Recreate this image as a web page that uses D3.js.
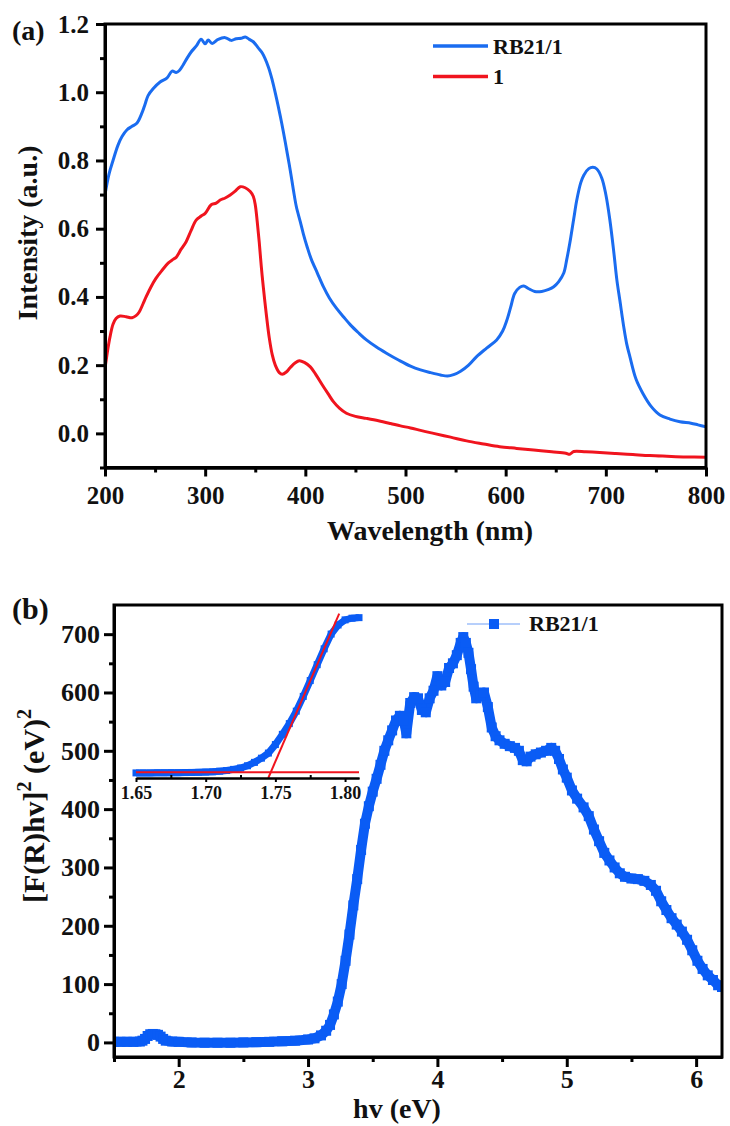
<!DOCTYPE html>
<html>
<head>
<meta charset="utf-8">
<script src="https://cdn.jsdelivr.net/npm/d3@7"></script>
<style>
  body { margin: 0; background: #fff; }
  svg { display: block; font-family: "Liberation Serif", "Times New Roman", serif; font-weight: bold; }
</style>
</head>
<body>
<div id="chart"></div>
<script>
// (a) absorption spectra, wavelength (nm) vs intensity
const rb21Spectrum = [
  [200, 0.70], [204, 0.76], [208, 0.80], [213, 0.845], [217, 0.87], [222, 0.89], [227, 0.90],
  [232, 0.91], [237, 0.94], [240, 0.965], [243, 0.99], [248, 1.01], [255, 1.03], [262, 1.042],
  [267, 1.062], [271, 1.058], [274, 1.063], [278, 1.08], [282, 1.10], [286, 1.118], [291, 1.135],
  [296, 1.155], [300, 1.142], [303, 1.153], [307, 1.143], [313, 1.155], [320, 1.16], [326, 1.152],
  [331, 1.157], [336, 1.158], [340, 1.162], [344, 1.155], [348, 1.148], [353, 1.13], [357, 1.115],
  [363, 1.075], [367, 1.035], [371, 0.985], [375, 0.93], [378, 0.885], [382, 0.82], [385, 0.77],
  [388, 0.715], [391, 0.665], [395, 0.62], [398, 0.585], [402, 0.545], [406, 0.51], [412, 0.47],
  [418, 0.43], [424, 0.397], [431, 0.367], [438, 0.342], [445, 0.318], [453, 0.295], [461, 0.274],
  [471, 0.253], [481, 0.235], [493, 0.215], [505, 0.197], [515, 0.186], [525, 0.178], [535, 0.171],
  [542, 0.168], [548, 0.172], [555, 0.182], [563, 0.2], [571, 0.225], [581, 0.25], [591, 0.274],
  [597, 0.3], [601, 0.33], [605, 0.37], [609, 0.41], [614, 0.428], [618, 0.432], [623, 0.424],
  [629, 0.416], [636, 0.416], [643, 0.422], [648, 0.43], [653, 0.445], [658, 0.47], [661, 0.51],
  [664, 0.557], [668, 0.63], [671, 0.684], [675, 0.735], [678, 0.757], [683, 0.776], [687, 0.78],
  [691, 0.775], [696, 0.748], [700, 0.70], [704, 0.626], [708, 0.53], [711, 0.45], [714, 0.39],
  [718, 0.31], [721, 0.26], [724, 0.225], [730, 0.16], [737, 0.117], [745, 0.08], [754, 0.054],
  [764, 0.042], [774, 0.034], [785, 0.03], [792, 0.025], [800, 0.019]
];
const cmpd1Spectrum = [
  [200, 0.19], [203, 0.25], [205, 0.283], [208, 0.32], [211, 0.337], [215, 0.344], [221, 0.342],
  [227, 0.339], [231, 0.345], [234, 0.355], [238, 0.38], [241, 0.40], [246, 0.43], [251, 0.455],
  [257, 0.478], [263, 0.499], [268, 0.51], [271, 0.516], [276, 0.54], [281, 0.562], [286, 0.595],
  [291, 0.625], [296, 0.637], [300, 0.645], [306, 0.67], [311, 0.675], [315, 0.684], [320, 0.69],
  [325, 0.699], [330, 0.71], [335, 0.723], [340, 0.72], [345, 0.709], [348, 0.695], [350, 0.67],
  [352, 0.62], [354, 0.56], [356, 0.49], [358, 0.43], [361, 0.35], [364, 0.28], [367, 0.23],
  [370, 0.2], [374, 0.178], [377, 0.173], [381, 0.18], [385, 0.193], [390, 0.207], [394, 0.213],
  [399, 0.208], [405, 0.195], [411, 0.17], [417, 0.142], [423, 0.115], [428, 0.093], [434, 0.074],
  [441, 0.059], [450, 0.05], [461, 0.044], [473, 0.037], [485, 0.029], [495, 0.022], [505, 0.016],
  [516, 0.008], [528, 0.0], [545, -0.011], [561, -0.022], [578, -0.031], [594, -0.039], [611, -0.044],
  [628, -0.049], [646, -0.054], [660, -0.058], [664, -0.061], [668, -0.053], [680, -0.054],
  [694, -0.056], [710, -0.059], [727, -0.062], [744, -0.065], [761, -0.067], [780, -0.069], [800, -0.07]
];
const waveTicks = [200, 300, 400, 500, 600, 700, 800];
const waveMinor = [250, 350, 450, 550, 650, 750];
const intensityTicks = [0.0, 0.2, 0.4, 0.6, 0.8, 1.0, 1.2];
const intensityMinor = [-0.1, 0.1, 0.3, 0.5, 0.7, 0.9, 1.1];

// (b) Tauc plot, hv (eV) vs [F(R)hv]^2
const taucPoints = [
  [1.50, 1], [1.55, 1], [1.60, 1], [1.65, 1], [1.70, 1.5], [1.72, 3], [1.74, 6], [1.76, 11],
  [1.78, 14], [1.80, 14.5], [1.82, 14], [1.84, 13], [1.86, 10], [1.88, 6], [1.90, 3], [1.95, 1.5],
  [2.00, 1], [2.10, 0], [2.20, -0.5], [2.30, -0.5], [2.40, -0.5], [2.50, 0], [2.60, 0.5], [2.70, 1],
  [2.80, 2], [2.90, 3], [3.00, 5], [3.05, 7], [3.10, 12], [3.14, 20], [3.17, 30], [3.20, 48],
  [3.23, 70], [3.26, 100], [3.29, 140], [3.32, 185], [3.35, 235], [3.38, 280], [3.41, 330],
  [3.44, 375], [3.47, 405], [3.50, 430], [3.53, 452], [3.56, 476], [3.59, 500], [3.62, 518],
  [3.65, 535], [3.68, 552], [3.71, 560], [3.74, 552], [3.76, 530], [3.79, 582], [3.82, 592],
  [3.85, 590], [3.88, 570], [3.91, 566], [3.94, 590], [3.97, 603], [4.00, 628], [4.03, 612],
  [4.06, 618], [4.09, 642], [4.12, 650], [4.15, 664], [4.18, 685], [4.20, 695], [4.22, 685],
  [4.24, 668], [4.26, 640], [4.28, 610], [4.30, 590], [4.33, 594], [4.36, 600], [4.39, 575],
  [4.42, 540], [4.45, 525], [4.48, 518], [4.52, 512], [4.56, 508], [4.60, 505], [4.63, 500],
  [4.66, 484], [4.69, 482], [4.72, 490], [4.76, 494], [4.80, 497], [4.84, 500], [4.88, 505],
  [4.91, 500], [4.94, 486], [4.97, 468], [5.00, 454], [5.04, 432], [5.08, 418], [5.13, 403],
  [5.17, 388], [5.21, 365], [5.25, 345], [5.29, 325], [5.33, 312], [5.37, 300], [5.41, 290],
  [5.45, 284], [5.50, 281], [5.55, 280], [5.60, 277], [5.65, 270], [5.69, 260], [5.73, 242],
  [5.77, 227], [5.81, 213], [5.85, 202], [5.89, 190], [5.93, 176], [5.97, 158], [6.01, 140],
  [6.05, 126], [6.09, 115], [6.13, 107], [6.17, 98], [6.20, 95]
];
const energyTicks = [2, 3, 4, 5, 6];
const energyMinor = [1.5, 2.5, 3.5, 4.5, 5.5];
const taucTicks = [0, 100, 200, 300, 400, 500, 600, 700];
const taucMinor = [50, 150, 250, 350, 450, 550, 650];

// inset: zoom on the 1.65-1.81 eV edge, with the linear fit
const insetPoints = [
  [1.650, 0.45], [1.655, 0.45], [1.660, 0.45], [1.665, 0.46], [1.670, 0.46], [1.675, 0.47],
  [1.680, 0.47], [1.685, 0.48], [1.690, 0.49], [1.695, 0.50], [1.700, 0.52], [1.705, 0.55],
  [1.710, 0.60], [1.715, 0.66], [1.720, 0.76], [1.725, 0.88], [1.730, 1.08], [1.735, 1.38],
  [1.740, 1.75], [1.745, 2.2], [1.750, 2.95], [1.755, 3.85], [1.760, 4.8], [1.765, 5.9],
  [1.770, 7.2], [1.775, 8.6], [1.780, 10.0], [1.785, 11.4], [1.790, 12.7], [1.795, 13.5],
  [1.800, 13.95], [1.805, 14.1], [1.810, 14.15]
];
const fitLine = [[1.7449, 0], [1.7958, 14.5]];
const baseLine = [[1.65, 0.5], [1.81, 0.5]];
const insetTicks = [1.65, 1.70, 1.75, 1.80];
const insetMinor = [1.675, 1.725, 1.775];

const W = 730, H = 1126;
const blueA = '#1a6cf0', red = '#f0141e', blueB = '#0a5cf5';

const svg = d3.select('#chart').append('svg').attr('width', W).attr('height', H);
const defs = svg.append('defs');

function styleAxis(g, fontSize) {
  g.select('.domain').attr('stroke', '#000').attr('stroke-width', 3);
  g.selectAll('.tick line').attr('stroke', '#000').attr('stroke-width', 3);
  g.selectAll('.tick text').attr('fill', '#111').attr('font-size', fontSize).attr('font-weight', 'bold')
    .attr('font-family', '"Liberation Serif", serif');
}

// ---------- panel (a) ----------
const ax = d3.scaleLinear().domain([200, 800]).range([105, 706]);
const ay = d3.scaleLinear().domain([-0.1, 1.2]).range([467.5, 24]);

defs.append('clipPath').attr('id', 'clipA').append('rect')
  .attr('x', 105).attr('y', 24).attr('width', 601).attr('height', 443.5);

const lineA = d3.line().x((d) => ax(d[0])).y((d) => ay(d[1])).curve(d3.curveCatmullRom.alpha(0.5));
const gA = svg.append('g').attr('clip-path', 'url(#clipA)');
gA.append('path').datum(rb21Spectrum).attr('d', lineA)
  .attr('fill', 'none').attr('stroke', blueA).attr('stroke-width', 3);
gA.append('path').datum(cmpd1Spectrum).attr('d', lineA)
  .attr('fill', 'none').attr('stroke', red).attr('stroke-width', 3);

svg.append('g').attr('transform', 'translate(0,467.5)')
  .call(d3.axisBottom(ax).tickValues(waveMinor).tickSize(5).tickSizeOuter(0).tickFormat(''))
  .call((g) => styleAxis(g, 25));
svg.append('g').attr('transform', 'translate(0,467.5)')
  .call(d3.axisBottom(ax).tickValues(waveTicks).tickSize(9).tickPadding(10).tickSizeOuter(0).tickFormat(d3.format('d')))
  .call((g) => styleAxis(g, 25));
svg.append('g').attr('transform', 'translate(105,0)')
  .call(d3.axisLeft(ay).tickValues(intensityMinor).tickSize(5).tickSizeOuter(0).tickFormat(''))
  .call((g) => styleAxis(g, 25));
svg.append('g').attr('transform', 'translate(105,0)')
  .call(d3.axisLeft(ay).tickValues(intensityTicks).tickSize(9).tickPadding(7).tickSizeOuter(0).tickFormat(d3.format('.1f')))
  .call((g) => styleAxis(g, 25));

svg.append('rect').attr('x', 105).attr('y', 24).attr('width', 601).attr('height', 443.5)
  .attr('fill', 'none').attr('stroke', '#000').attr('stroke-width', 3);

svg.append('text').attr('x', 430).attr('y', 540).attr('text-anchor', 'middle')
  .attr('font-size', 28).attr('fill', '#111').text('Wavelength (nm)');
svg.append('text').attr('transform', 'translate(37,233) rotate(-90)').attr('text-anchor', 'middle')
  .attr('font-size', 28).attr('fill', '#111').text('Intensity (a.u.)');
svg.append('text').attr('x', 12).attr('y', 40).attr('font-size', 28).attr('fill', '#111').text('(a)');

const legendA = [
  { name: 'RB21/1', color: blueA, y: 46 },
  { name: '1', color: red, y: 76.5 }
];
legendA.forEach((d) => {
  svg.append('line').attr('x1', 433).attr('x2', 488).attr('y1', d.y).attr('y2', d.y)
    .attr('stroke', d.color).attr('stroke-width', 3.5);
  svg.append('text').attr('x', 493).attr('y', d.y + 7.5).attr('font-size', 22).attr('fill', '#111').text(d.name);
});

// ---------- panel (b) ----------
const bx = d3.scaleLinear().domain([1.5, 6.2]).range([114, 722]);
const by = d3.scaleLinear().domain([-25, 750]).range([1057, 605]);

defs.append('clipPath').attr('id', 'clipB').append('rect')
  .attr('x', 114).attr('y', 605).attr('width', 608).attr('height', 452);

const lineB = d3.line().x((d) => bx(d[0])).y((d) => by(d[1]));
const gB = svg.append('g').attr('clip-path', 'url(#clipB)');
gB.append('path').datum(taucPoints).attr('d', lineB)
  .attr('fill', 'none').attr('stroke', blueB).attr('stroke-width', 10).attr('stroke-linejoin', 'round');
gB.selectAll('rect.pt').data(taucPoints).join('rect').attr('class', 'pt')
  .attr('x', (d) => bx(d[0]) - 5).attr('y', (d) => by(d[1]) - 5)
  .attr('width', 10).attr('height', 10).attr('fill', blueB);

svg.append('g').attr('transform', 'translate(0,1057)')
  .call(d3.axisBottom(bx).tickValues(energyMinor).tickSize(5).tickSizeOuter(0).tickFormat(''))
  .call((g) => styleAxis(g, 26));
svg.append('g').attr('transform', 'translate(0,1057)')
  .call(d3.axisBottom(bx).tickValues(energyTicks).tickSize(10).tickPadding(3).tickSizeOuter(0).tickFormat(d3.format('d')))
  .call((g) => styleAxis(g, 26));
svg.append('g').attr('transform', 'translate(114,0)')
  .call(d3.axisLeft(by).tickValues(taucMinor).tickSize(5).tickSizeOuter(0).tickFormat(''))
  .call((g) => styleAxis(g, 26));
svg.append('g').attr('transform', 'translate(114,0)')
  .call(d3.axisLeft(by).tickValues(taucTicks).tickSize(10).tickPadding(4).tickSizeOuter(0).tickFormat(d3.format('d')))
  .call((g) => styleAxis(g, 26));

svg.append('rect').attr('x', 114).attr('y', 605).attr('width', 608).attr('height', 452)
  .attr('fill', 'none').attr('stroke', '#000').attr('stroke-width', 3);

svg.append('text').attr('x', 397).attr('y', 1118).attr('text-anchor', 'middle')
  .attr('font-size', 28).attr('fill', '#111').text('hv (eV)');
const yTitle = svg.append('text').attr('transform', 'translate(44,806) rotate(-90)')
  .attr('text-anchor', 'middle').attr('font-size', 30).attr('fill', '#111');
yTitle.append('tspan').text('[F(R)hv]');
yTitle.append('tspan').attr('font-size', 20).attr('dy', -13).text('2');
yTitle.append('tspan').attr('dy', 13).text(' (eV)');
yTitle.append('tspan').attr('font-size', 20).attr('dy', -13).text('2');
svg.append('text').attr('x', 12).attr('y', 619).attr('font-size', 30).attr('fill', '#111').text('(b)');

// legend (b)
svg.append('line').attr('x1', 467).attr('x2', 520).attr('y1', 624).attr('y2', 624)
  .attr('stroke', '#6f9ff7').attr('stroke-width', 1);
svg.append('rect').attr('x', 489).attr('y', 619).attr('width', 10).attr('height', 10).attr('fill', blueB);
svg.append('text').attr('x', 529).attr('y', 631).attr('font-size', 22).attr('fill', '#111').text('RB21/1');

// inset
const ix = d3.scaleLinear().domain([1.65, 1.81]).range([136, 359]);
const iy = d3.scaleLinear().domain([0, 15]).range([778, 608]);
const lineI = d3.line().x((d) => ix(d[0])).y((d) => iy(d[1]));
const gI = svg.append('g');
gI.append('path').datum(insetPoints).attr('d', lineI)
  .attr('fill', 'none').attr('stroke', blueB).attr('stroke-width', 7);
gI.selectAll('rect.ipt').data(insetPoints).join('rect').attr('class', 'ipt')
  .attr('x', (d) => ix(d[0]) - 3.5).attr('y', (d) => iy(d[1]) - 3.5)
  .attr('width', 7).attr('height', 7).attr('fill', blueB);
gI.append('path').datum(baseLine).attr('d', lineI).attr('stroke', red).attr('stroke-width', 2);
gI.append('path').datum(fitLine).attr('d', lineI).attr('stroke', red).attr('stroke-width', 2);

const insetAxis = svg.append('g').attr('transform', 'translate(0,778)');
insetAxis.call(d3.axisBottom(ix).tickValues(insetMinor).tickSize(-3).tickSizeOuter(0).tickFormat(''));
insetAxis.selectAll('.domain, .tick line').attr('stroke', '#000').attr('stroke-width', 2);
const insetAxis2 = svg.append('g').attr('transform', 'translate(0,778)');
insetAxis2.call(d3.axisBottom(ix).tickValues(insetTicks).tickSize(4).tickPadding(4).tickSizeOuter(0).tickFormat(d3.format('.2f')));
insetAxis2.selectAll('.domain, .tick line').attr('stroke', '#000').attr('stroke-width', 2);
insetAxis2.selectAll('.tick text').attr('fill', '#111').attr('font-size', 18).attr('font-weight', 'bold')
  .attr('font-family', '"Liberation Serif", serif');
</script>
</body>
</html>
